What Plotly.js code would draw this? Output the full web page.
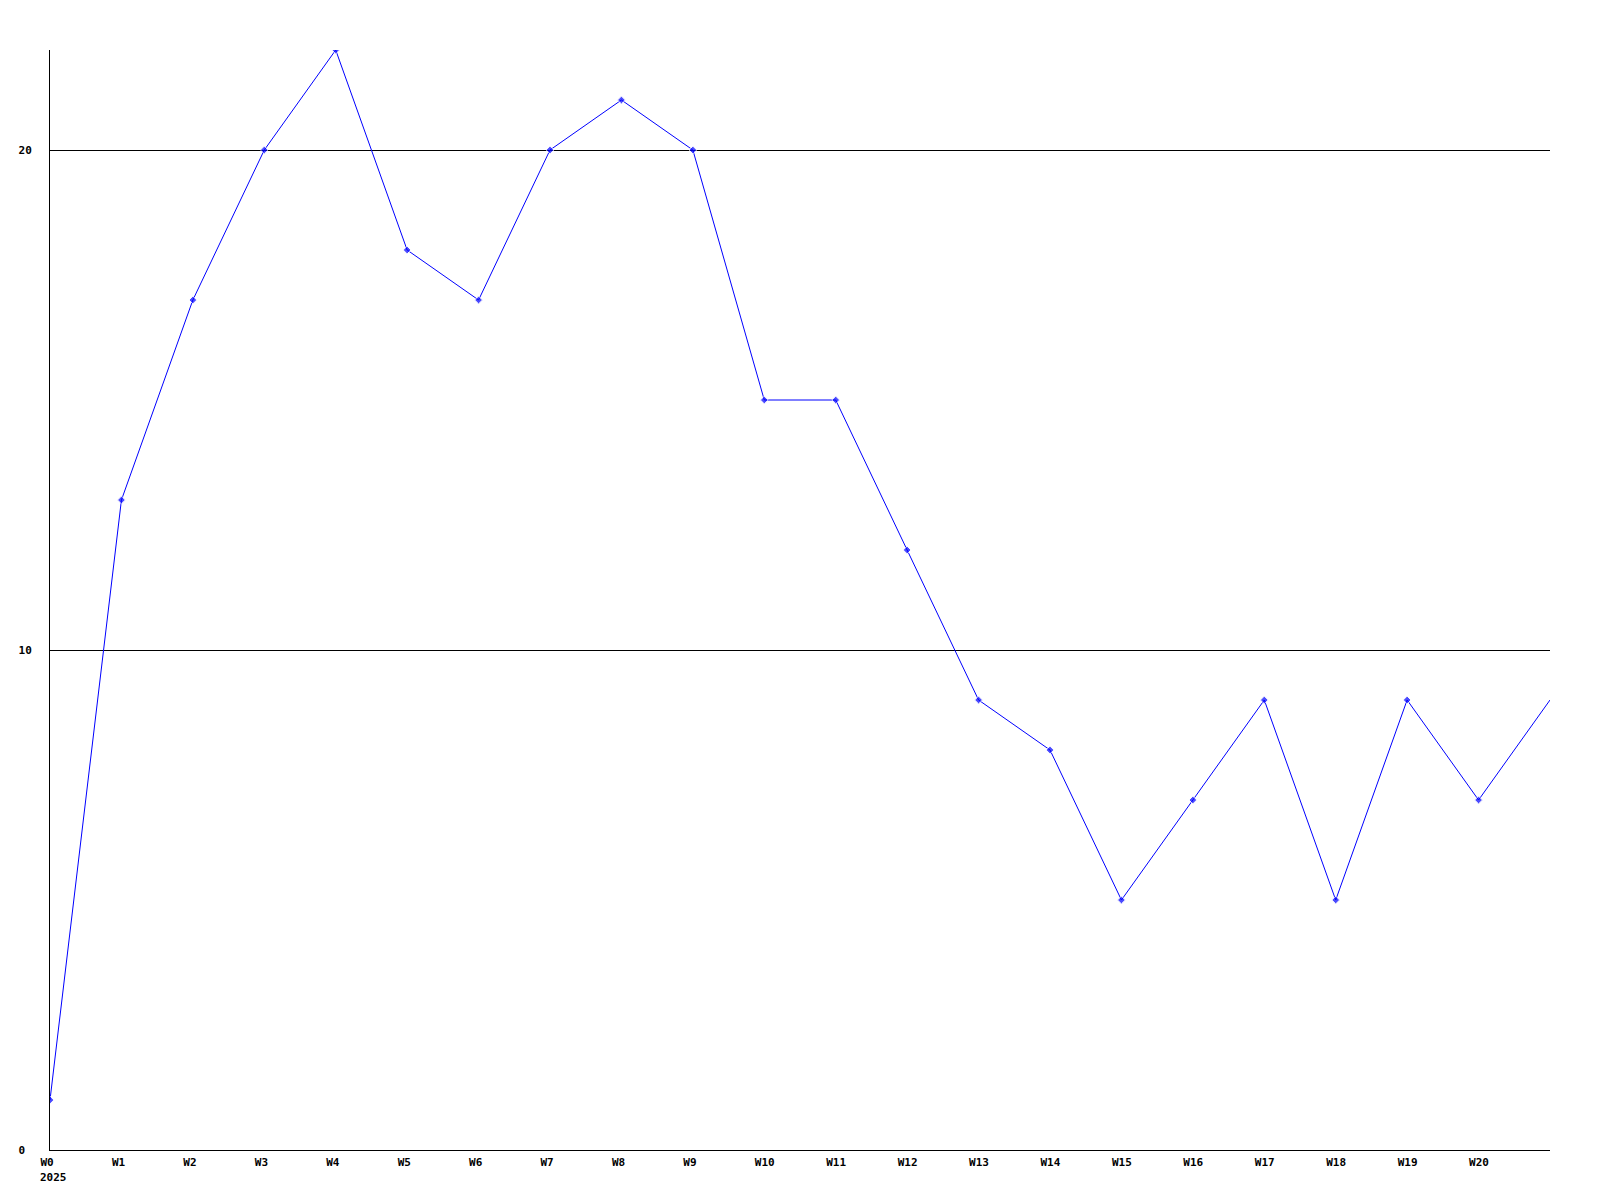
<!DOCTYPE html>
<html>
<head>
<meta charset="utf-8">
<script src="https://cdn.plot.ly/plotly-3.0.1.min.js"></script>
<style>html,body{margin:0;padding:0;background:#fff;}#chart{width:1600px;height:1200px;}</style>
</head>
<body>
<div id="chart"></div>
<script>
const weeks = [0,1,2,3,4,5,6,7,8,9,10,11,12,13,14,15,16,17,18,19,20,21];
const values = [1,13,17,20,22,18,17,20,21,20,15,15,12,9,8,5,7,9,5,9,7,9];
const tickLabels = ["W0","W1","W2","W3","W4","W5","W6","W7","W8","W9","W10","W11","W12","W13","W14","W15","W16","W17","W18","W19","W20"];
const yTicks = [0,10,20];
const yTickLabels = ["0\u00a0","10","20"];
const yearLabel = "2025";

const markerSizes = values.map((v,i)=> i === values.length-1 ? 0 : 6);

const fam = "DejaVu Sans Mono, Liberation Mono, monospace";

Plotly.newPlot("chart", [{
  x: weeks, y: values, type: "scatter", mode: "lines+markers",
  line: {color: "#0000ff", width: 1},
  marker: {color: "#0000ff", size: markerSizes, symbol: "diamond"},
  hoverinfo: "skip"
}], {
  width: 1600, height: 1200,
  margin: {l: 50, r: 50, t: 50, b: 50},
  paper_bgcolor: "#fff", plot_bgcolor: "#fff",
  showlegend: false,
  font: {family: fam, size: 11, color: "#000"},
  xaxis: {
    range: [0, 21], tickvals: weeks.slice(0, tickLabels.length), ticktext: tickLabels,
    showgrid: false, zeroline: false, showline: true, linecolor: "#000", linewidth: 1,
    ticks: "", tickangle: 0, tickfont: {family: fam, size: 11, color: "#000", weight: "bold"},
    ticklabelposition: "outside right", ticklabelshift: -10, ticklabelstandoff: 2
  },
  yaxis: {
    range: [0, 22], tickvals: yTicks, ticktext: yTickLabels,
    showgrid: true, gridcolor: "#000", gridwidth: 1, zeroline: false,
    showline: true, linecolor: "#000", linewidth: 1, ticks: "",
    tickfont: {family: fam, size: 11, color: "#000", weight: "bold"},
    ticklabelstandoff: 15
  },
  annotations: [{
    text: yearLabel, xref: "paper", yref: "paper", x: 0, y: 0,
    xanchor: "left", yanchor: "top", xshift: -12, yshift: -19, showarrow: false,
    font: {family: fam, size: 11, color: "#000", weight: "bold"}
  }]
}, {staticPlot: true, displayModeBar: false});
</script>
</body>
</html>
